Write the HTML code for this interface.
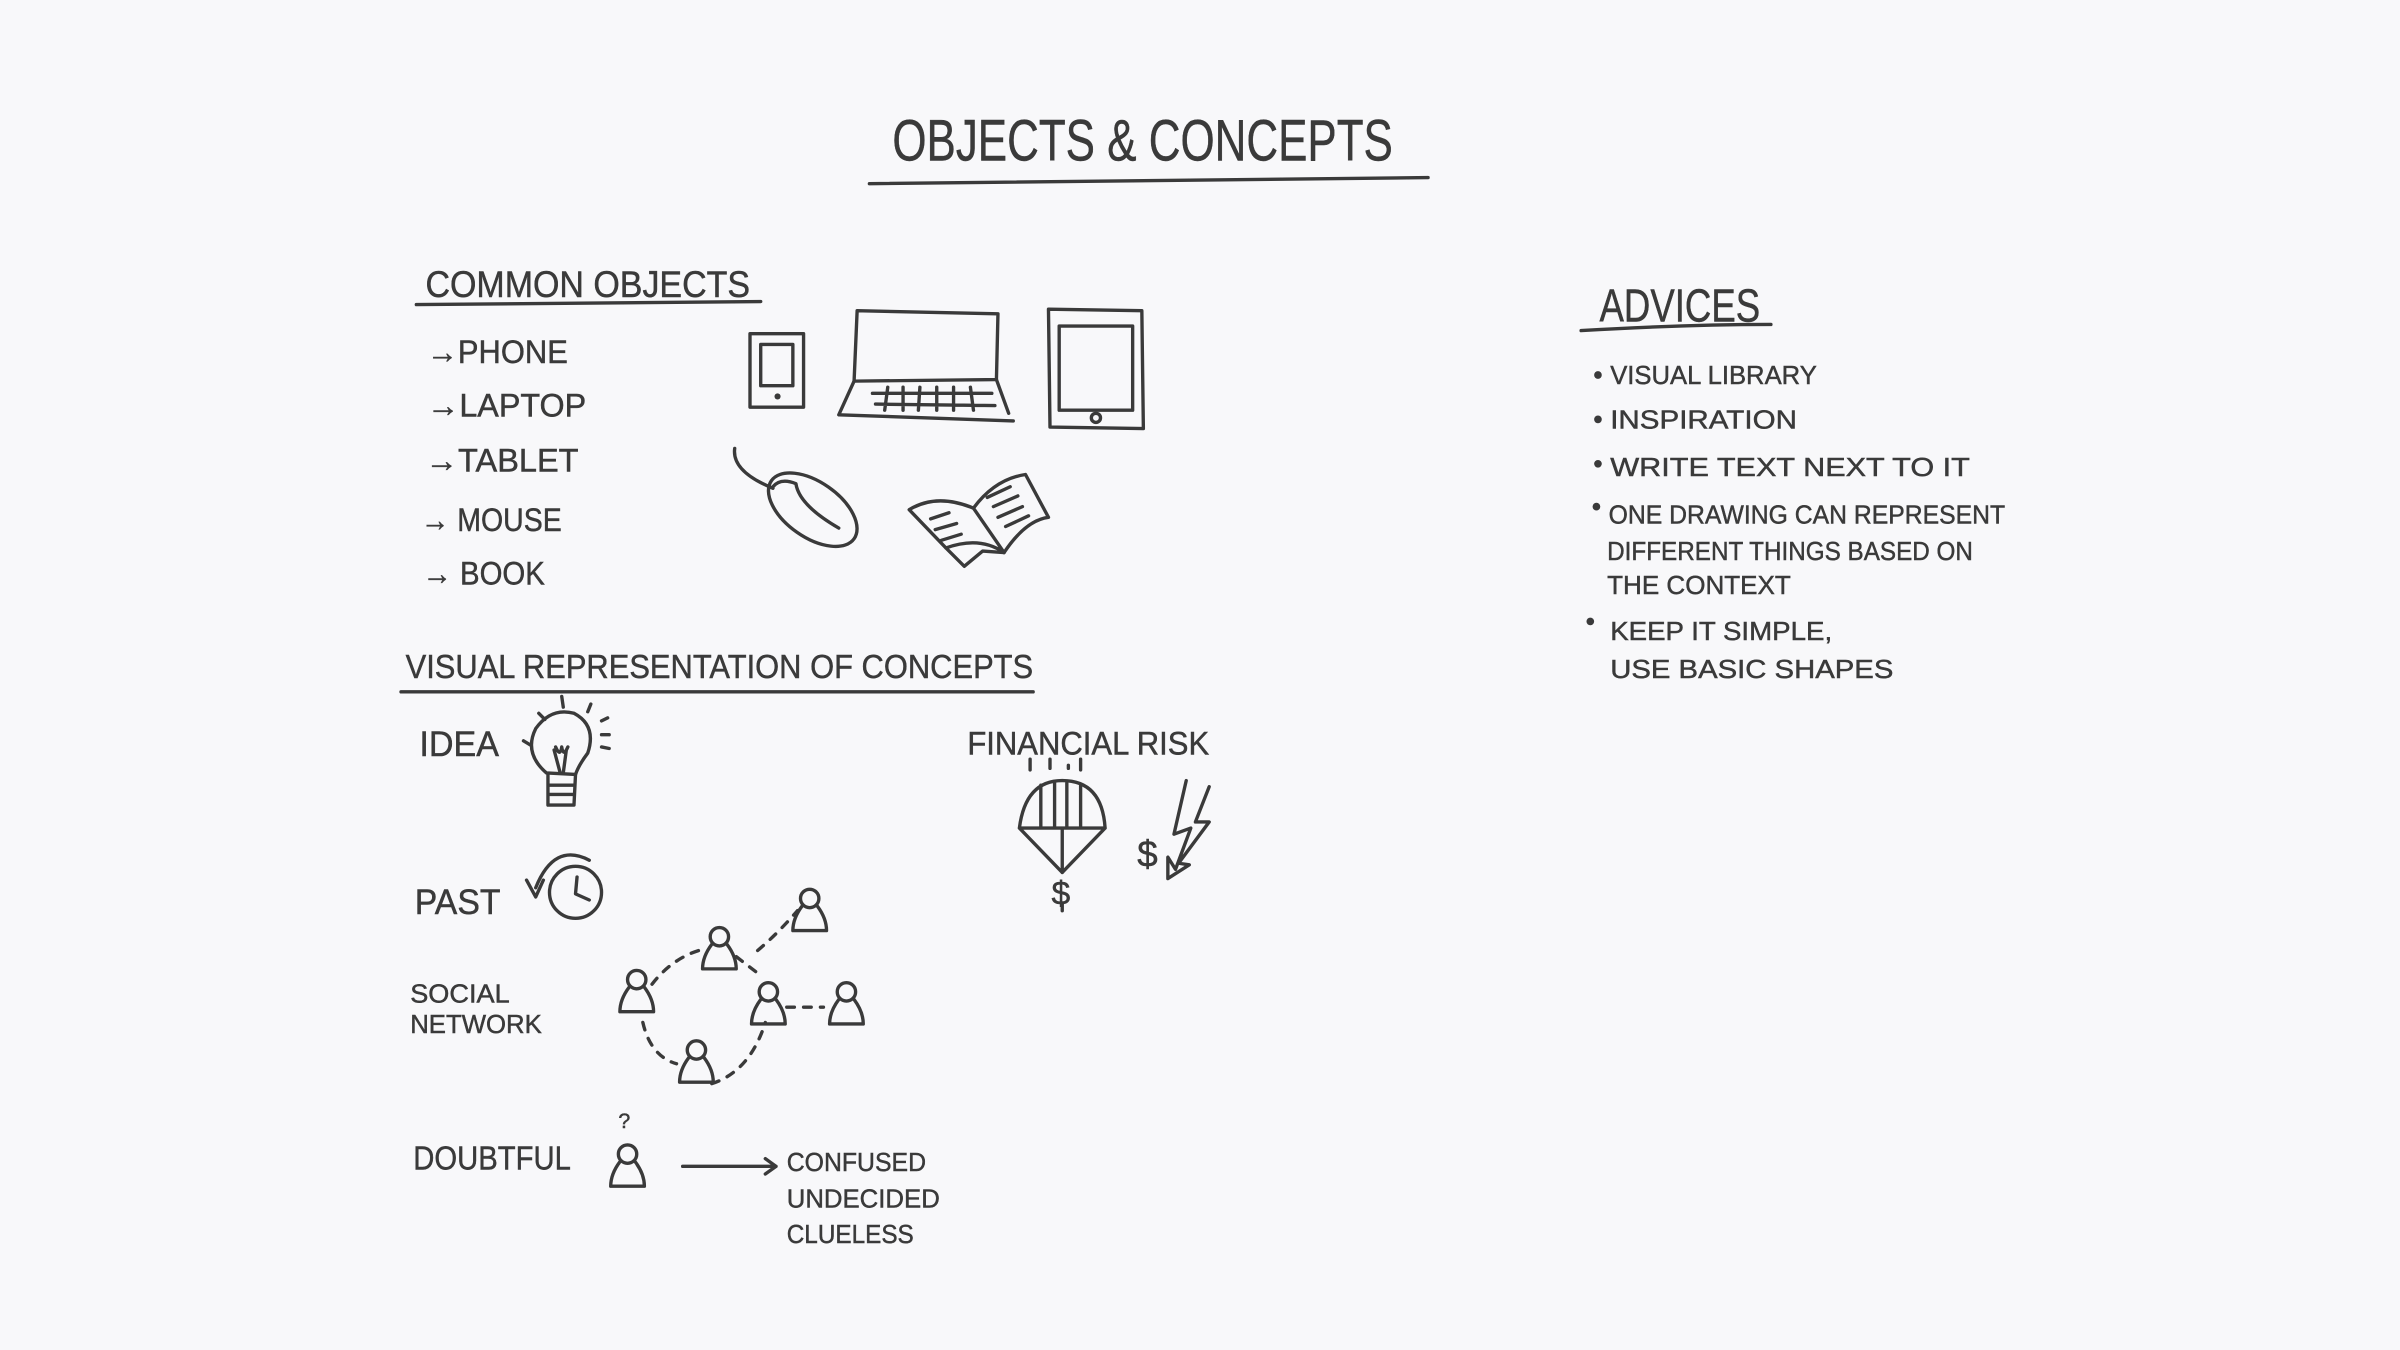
<!DOCTYPE html>
<html><head><meta charset="utf-8"><style>
html,body{margin:0;padding:0;background:#f8f8fa;}
svg{display:block;}
text{font-family:"Liberation Sans Narrow","Liberation Sans",sans-serif;fill:#3a3a3a;stroke:#3a3a3a;stroke-width:0.3;}
.s{fill:none;stroke:#3a3a3a;stroke-width:2.2;stroke-linecap:round;stroke-linejoin:round;}
.d{stroke-dasharray:5 6;}
</style></head><body>
<svg width="2400" height="1350" viewBox="0 0 1568 882" xmlns="http://www.w3.org/2000/svg">
<defs>
<g id="p" class="s">
<circle cx="0" cy="-8" r="6"/>
<path d="M-5 -3 Q-11 5 -11 13 L11 13 Q11 5 5 -3"/>
</g>
</defs>
<rect width="1568" height="882" fill="#f8f8fa"/>
<!-- title -->
<text x="583" y="105" font-size="38" textLength="327" lengthAdjust="spacingAndGlyphs">OBJECTS &amp; CONCEPTS</text>
<path class="s" d="M568 120 L933 116" stroke-width="2.8"/>
<!-- common objects -->
<text x="278" y="194" font-size="24" textLength="212" lengthAdjust="spacingAndGlyphs">COMMON OBJECTS</text>
<path class="s" d="M272 199 L497 197" stroke-width="2.6"/>
<g font-size="21">
<text x="279" y="237" textLength="92" lengthAdjust="spacingAndGlyphs">→PHONE</text>
<text x="279" y="272" textLength="104" lengthAdjust="spacingAndGlyphs">→LAPTOP</text>
<text x="278" y="308" textLength="100" lengthAdjust="spacingAndGlyphs">→TABLET</text>
<text x="275" y="347" textLength="92" lengthAdjust="spacingAndGlyphs">→ MOUSE</text>
<text x="276" y="382" textLength="80" lengthAdjust="spacingAndGlyphs">→ BOOK</text>
</g>
<!-- phone -->
<rect class="s" x="490" y="218" width="35" height="48"/>
<rect class="s" x="497" y="225" width="21" height="27"/>
<circle cx="508" cy="259" r="2" fill="#3a3a3a"/>
<!-- laptop -->
<path class="s" d="M560 203 L652 205 L651 248 L558 249 Z"/>
<path class="s" d="M558 249 L548 271 L662 275 M651 248 L659 270"/>
<path class="s" d="M570 257 L648 257 M572 264 L650 265 M580 253 L578 268 M590 253 L590 268 M601 253 L600 268 M612 253 L612 268 M623 253 L623 268 M634 253 L636 268"/>
<!-- tablet -->
<path class="s" d="M685 202 L746 203 L747 280 L686 279 Z"/>
<rect class="s" x="692" y="213" width="48" height="55"/>
<circle class="s" cx="716" cy="273" r="3"/>
<!-- mouse -->
<path class="s" d="M480 293 Q478 308 505 319"/>
<ellipse class="s" cx="531" cy="333" rx="33" ry="18" transform="rotate(35 531 333)"/>
<path class="s" d="M505 318 Q510 312 520 316 Q522 330 548 345"/>
<!-- book -->
<path class="s" d="M594 333 Q612 322 636 332 L656 361 Q640 350 618 358 Z"/>
<path class="s" d="M636 332 Q650 313 670 310 L685 338 Q670 340 656 361"/>
<path class="s" d="M618 358 L630 370 L642 360 L656 361"/>
<path class="s" d="M608 339 L620 335 M611 346 L625 342 M615 353 L628 349 M645 325 L660 318 M649 331 L665 324 M652 338 L668 331 M657 344 L672 337"/>
<!-- visual representation -->
<text x="265" y="443" font-size="22" textLength="410" lengthAdjust="spacingAndGlyphs">VISUAL REPRESENTATION OF CONCEPTS</text>
<path class="s" d="M262 452 L675 452" stroke-width="2.6"/>
<text x="274" y="494" font-size="23" textLength="52" lengthAdjust="spacingAndGlyphs">IDEA</text>
<!-- bulb -->
<path class="s" d="M357 505 Q342 492 350 476 Q360 462 375 466 Q390 474 384 492 Q378 500 376 506 Z"/>
<path class="s" d="M358 506 L358 526 L375 526 L376 506 M358 513 L375 513 M358 519 L375 519 M362 490 L366 505 M370 490 L368 505 M363 488 Q366 495 367 488 Q368 495 371 488"/>
<path class="s" d="M367 455 L368 462 M352 466 L356 470 M342 484 L347 487 M386 460 L384 465 M393 471 L397 469 M393 480 L398 480 M393 488 L398 489"/>
<!-- financial risk -->
<text x="632" y="493" font-size="21" textLength="158" lengthAdjust="spacingAndGlyphs">FINANCIAL RISK</text>
<path class="s" d="M673 496 L673 503 M686 496 L686 502 M698 500 L698 502 M706 496 L706 503"/>
<path class="s" d="M666 541 Q670 510 694 510 Q720 510 722 541 Z M680 513 L680 540 M689 511 L689 540 M697 511 L697 540 M706 513 L706 540 M666 541 L694 570 L722 541 M694 541 L694 570"/>
<text x="687" y="591" font-size="22">$</text>
<path class="s" d="M694 590 L694 595"/>
<text x="743" y="566" font-size="24">$</text>
<path class="s" d="M775 510 L767 545 L778 541 L768 568 L763 560 L763 574 L777 565 L770 564 L790 537 L781 537 L790 514"/>
<!-- past -->
<text x="271" y="597" font-size="23" textLength="56" lengthAdjust="spacingAndGlyphs">PAST</text>
<circle class="s" cx="376" cy="583" r="17"/>
<path class="s" d="M377 573 L376 584 L385 588"/>
<path class="s" d="M385 562 Q362 550 350 580 M344 575 L350 586 L355 575"/>
<!-- social network -->
<text x="268" y="655" font-size="17" textLength="65" lengthAdjust="spacingAndGlyphs">SOCIAL</text>
<text x="268" y="675" font-size="17" textLength="86" lengthAdjust="spacingAndGlyphs">NETWORK</text>
<g class="s">
<path class="d" d="M426 643 Q440 625 460 620"/>
<path class="d" d="M481 625 L494 635"/>
<path class="d" d="M495 621 Q508 610 521 595"/>
<path class="d" d="M514 658 L538 658"/>
<path class="d" d="M420 668 Q425 690 442 695"/>
<path class="d" d="M465 708 Q490 700 500 668"/>
</g>
<use href="#p" x="416" y="648"/>
<use href="#p" x="470" y="620"/>
<use href="#p" x="529" y="595"/>
<use href="#p" x="502" y="656"/>
<use href="#p" x="553" y="656"/>
<use href="#p" x="455" y="694"/>
<!-- doubtful -->
<text x="270" y="764" font-size="22" textLength="103" lengthAdjust="spacingAndGlyphs">DOUBTFUL</text>
<text x="404" y="737" font-size="14">?</text>
<use href="#p" x="410" y="762"/>
<path class="s" d="M446 762 L507 762 M500 757 L507 762 L500 767"/>
<g font-size="17">
<text x="514" y="765" textLength="91" lengthAdjust="spacingAndGlyphs">CONFUSED</text>
<text x="514" y="789" textLength="100" lengthAdjust="spacingAndGlyphs">UNDECIDED</text>
<text x="514" y="812" textLength="83" lengthAdjust="spacingAndGlyphs">CLUELESS</text>
</g>
<!-- advices -->
<text x="1045" y="210" font-size="30" textLength="105" lengthAdjust="spacingAndGlyphs">ADVICES</text>
<path class="s" d="M1033 216 Q1100 212 1157 212" stroke-width="2.6"/>
<g font-size="17">
<circle cx="1044" cy="245" r="2.5" fill="#3a3a3a"/>
<text x="1052" y="251" textLength="135" lengthAdjust="spacingAndGlyphs">VISUAL LIBRARY</text>
<circle cx="1044" cy="274" r="2.5" fill="#3a3a3a"/>
<text x="1052" y="280" textLength="122" lengthAdjust="spacingAndGlyphs">INSPIRATION</text>
<circle cx="1044" cy="303" r="2.5" fill="#3a3a3a"/>
<text x="1052" y="311" textLength="235" lengthAdjust="spacingAndGlyphs">WRITE TEXT NEXT TO IT</text>
<circle cx="1043" cy="331" r="2.5" fill="#3a3a3a"/>
<text x="1051" y="342" textLength="259" lengthAdjust="spacingAndGlyphs">ONE DRAWING CAN REPRESENT</text>
<text x="1050" y="366" textLength="239" lengthAdjust="spacingAndGlyphs">DIFFERENT THINGS BASED ON</text>
<text x="1050" y="388" textLength="120" lengthAdjust="spacingAndGlyphs">THE CONTEXT</text>
<circle cx="1039" cy="406" r="2.5" fill="#3a3a3a"/>
<text x="1052" y="418" textLength="145" lengthAdjust="spacingAndGlyphs">KEEP IT SIMPLE,</text>
<text x="1052" y="443" textLength="185" lengthAdjust="spacingAndGlyphs">USE BASIC SHAPES</text>
</g>
</svg>
</body></html>
